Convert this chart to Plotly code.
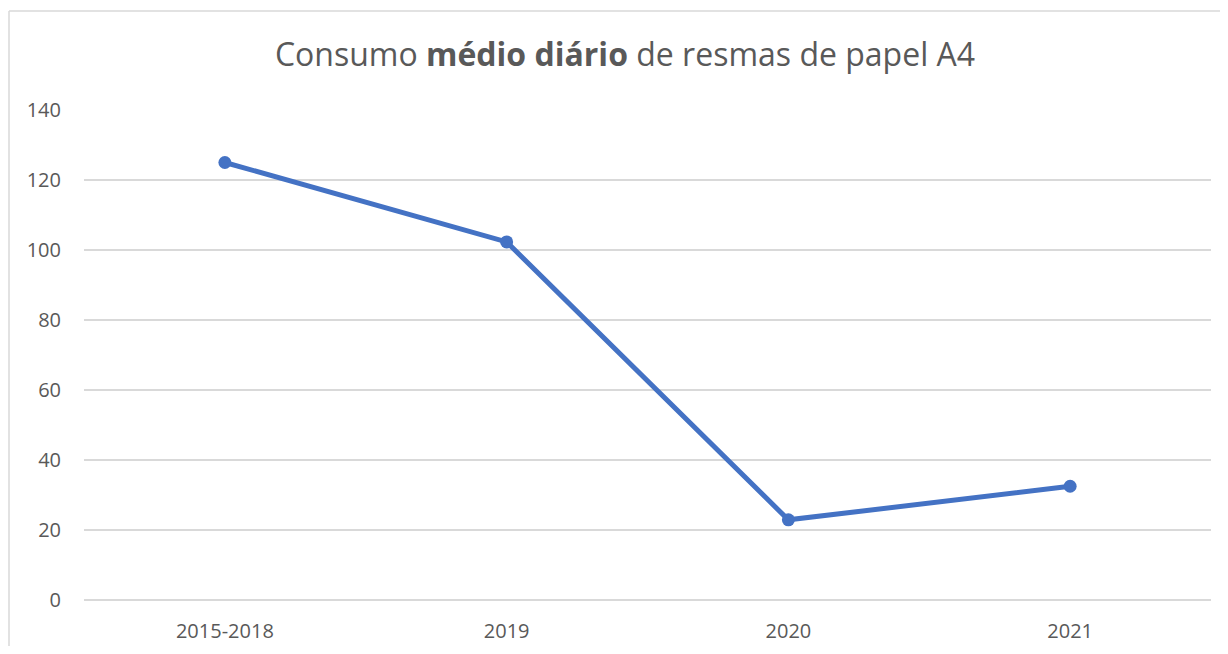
import plotly.graph_objects as go

periodos = ['2015-2018', '2019', '2020', '2021']
consumo_medio = [125, 102.3, 22.9, 32.5]

# a página tem 8px de margem no body, por isso a figura é um pouco menor
W, H = 1212, 638
ml, mr, mt, mb = 76, 9, 102, 46
pw, ph = W - ml - mr, H - mt - mb

fig = go.Figure()
fig.add_trace(go.Scatter(
    x=periodos, y=consumo_medio, mode='lines+markers',
    line=dict(color='#4472C4', width=5),
    marker=dict(color='#4472C4', size=13),
    showlegend=False,
))

# moldura do gráfico (só a parte visível: esquerda e topo)
bx = (1 - ml) / pw
by = (H - mb - 3) / ph
fig.add_shape(type='line', xref='paper', yref='paper', x0=bx, x1=bx, y0=by, y1=-0.2,
              line=dict(color='#d9d9d9', width=1.5))
fig.add_shape(type='line', xref='paper', yref='paper', x0=bx, x1=1.2, y0=by, y1=by,
              line=dict(color='#d9d9d9', width=1.5))

fig.update_layout(
    width=W, height=H,
    margin=dict(l=ml, r=mr, t=mt, b=mb),
    paper_bgcolor='white', plot_bgcolor='white',
    font=dict(family='Open Sans, Noto Sans, sans-serif', color='#595959', size=20),
    title=dict(
        text='Consumo <b>médio diário</b> de resmas de papel A4',
        x=617 / W, xref='container', xanchor='center',
        y=1 - 47 / H, yref='container', yanchor='middle',
        font=dict(size=32, color='#595959'),
    ),
    xaxis=dict(
        type='category', range=[-0.5, 3.5], showgrid=False, zeroline=False,
        showline=False, ticks='outside', ticklen=13, tickcolor='rgba(0,0,0,0)',
        tickfont=dict(size=20), automargin=False,
    ),
    yaxis=dict(
        range=[0, 140], tickvals=[0, 20, 40, 60, 80, 100, 120, 140],
        showgrid=True, gridcolor='#d9d9d9', gridwidth=1.5,
        zeroline=True, zerolinecolor='#d9d9d9', zerolinewidth=1.5,
        showline=False, ticks='outside', ticklen=18, tickcolor='rgba(0,0,0,0)',
        tickfont=dict(size=20), automargin=False,
    ),
)

fig.write_html('out.html')
